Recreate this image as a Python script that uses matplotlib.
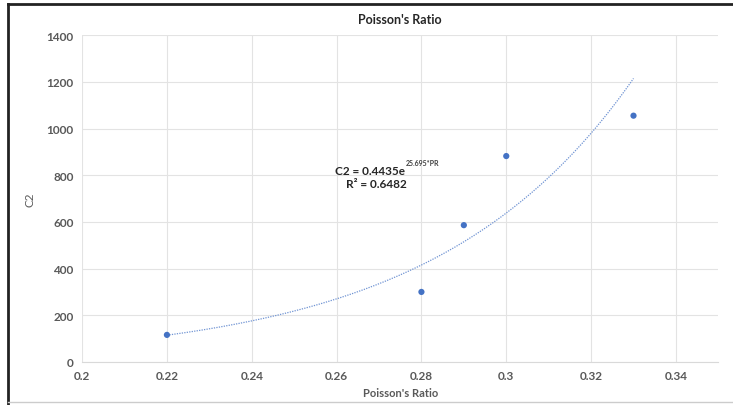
import numpy as np
import matplotlib.pyplot as plt
from matplotlib.lines import Line2D

# data
pr = [0.22, 0.28, 0.29, 0.30, 0.33]
c2 = [116, 300, 586, 882, 1055]
xticks = [0.2, 0.22, 0.24, 0.26, 0.28, 0.3, 0.32, 0.34]
yticks = [0, 200, 400, 600, 800, 1000, 1200, 1400]

plt.rcParams['font.family'] = ['Lato', 'DejaVu Sans']

blue = '#4472C4'
grey = '#595959'

fig = plt.figure(figsize=(7.33, 4.06), dpi=100)
ax = fig.add_axes([0.112, 0.106, 0.868, 0.805])

# exponential trendline fitted on log values
b, lna = np.polyfit(pr, np.log(c2), 1)
xs = np.linspace(min(pr), max(pr), 200)
ax.plot(xs, np.exp(lna) * np.exp(b * xs), ls=(0, (1, 1)), color='#6f93d3', lw=0.9)

ax.scatter(pr, c2, s=20, color=blue, zorder=3, edgecolors='none')

ax.set_xlim(0.2, 0.35)
ax.set_ylim(0, 1400)
ax.set_xticks(xticks)
ax.set_xticklabels([f'{t:g}' for t in xticks])
ax.set_yticks(yticks)
ax.grid(True, color='#e3e3e3', lw=0.8)
ax.set_axisbelow(True)
for s in ['top', 'right', 'left']:
    ax.spines[s].set_visible(False)
ax.spines['bottom'].set_color('#d9d9d9')
ax.tick_params(length=0, labelsize=8.5, colors=grey, pad=6)
for lab in ax.get_xticklabels() + ax.get_yticklabels():
    lab.set_fontweight('bold')

ax.set_title("Poisson's Ratio", fontsize=9, fontweight='bold', color='#262626', pad=9)
ax.set_xlabel("Poisson's Ratio", fontsize=8, fontweight='bold', color=grey, labelpad=4)
ax.set_ylabel('C2', fontsize=8.5, color=grey, labelpad=8)

# trendline equation
ax.text(0.2762, 822, 'C2 = 0.4435e', ha='right', va='center', fontsize=8.5,
        fontweight='bold', color='#262626')
ax.text(0.2762, 838, '25.695*PR', ha='left', va='bottom', fontsize=5,
        fontweight='bold', color='#404040')
ax.text(0.2693, 765, 'R² = 0.6482', ha='center', va='center', fontsize=8.5,
        fontweight='bold', color='#262626')

# chart border
fig.add_artist(Line2D([0.011, 0.011], [0.0, 0.988], color='#222222', lw=2))
fig.add_artist(Line2D([0.011, 1.0], [0.988, 0.988], color='#222222', lw=2))
fig.add_artist(Line2D([0.011, 1.0], [0.008, 0.008], color='#cccccc', lw=1))

fig.savefig('out.png', dpi=100)
